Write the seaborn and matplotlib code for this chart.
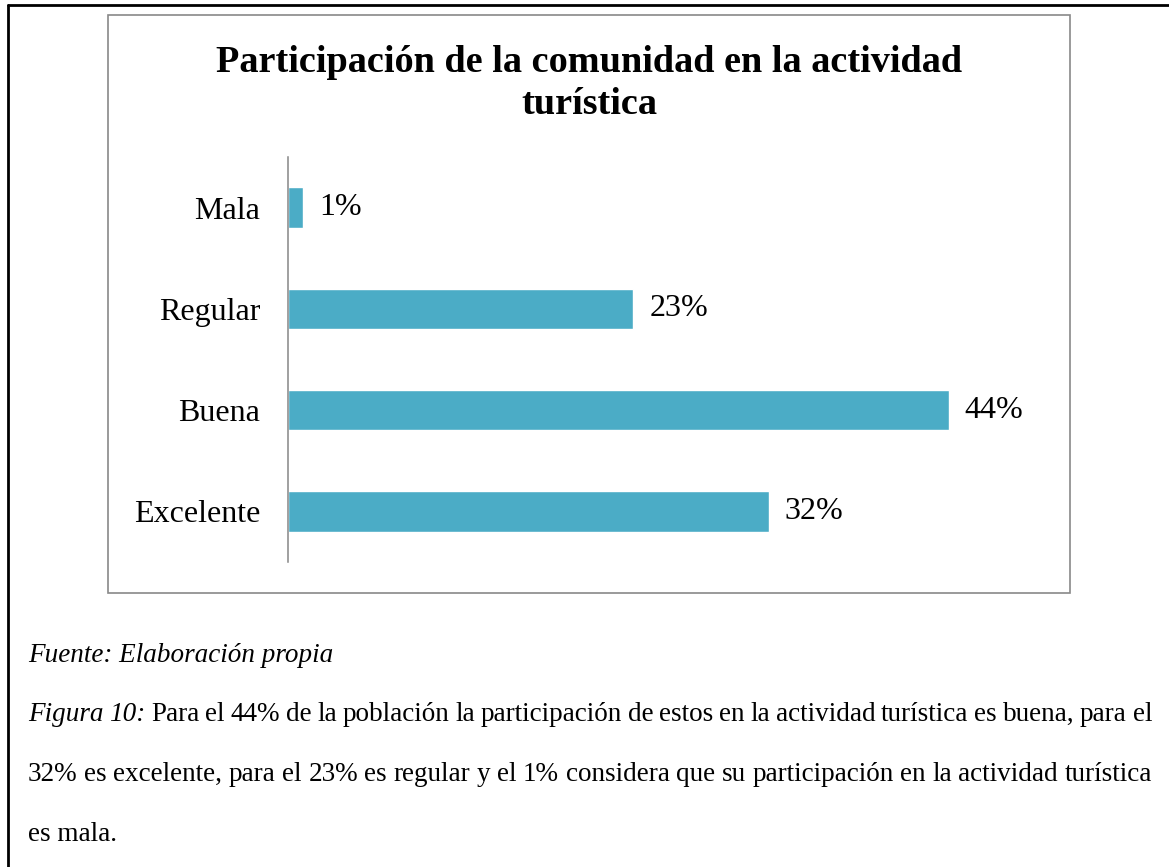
import matplotlib
matplotlib.use("Agg")
import pandas as pd
import matplotlib.pyplot as plt
import seaborn as sns
from matplotlib.patches import Rectangle
from matplotlib.lines import Line2D

# data
categorias = ["Mala", "Regular", "Buena", "Excelente"]
porcentajes = [1, 23, 44, 32]
etiquetas = ["1%", "23%", "44%", "32%"]

titulo_l1 = "Participación de la comunidad en la actividad"
titulo_l2 = "turística"
fuente = "Fuente: Elaboración propia"
figura = "Figura 10:"
parrafo = [
    "Para el 44% de la población la participación de estos en la actividad turística es buena, para el",
    "32% es excelente, para el 23% es regular y el 1% considera que su participación en la actividad turística",
    "es mala.",
]

df = pd.DataFrame({"categoria": categorias, "porcentaje": porcentajes})

sns.set_style("white")
plt.rcParams["font.family"] = ["Liberation Serif", "DejaVu Serif"]
plt.rcParams["text.color"] = "black"
plt.rcParams["ytick.color"] = "black"
plt.rcParams["axes.labelcolor"] = "black"

W, H = 1169, 867
fig = plt.figure(figsize=(W / 100, H / 100), dpi=100)

# bar chart
ax = fig.add_axes([288 / W, 1 - 562 / H, 751 / W, 405 / H])
sns.barplot(data=df, x="porcentaje", y="categoria", order=categorias,
            color="#4BACC6", saturation=1, width=0.4, errorbar=None, ax=ax)
ax.bar_label(ax.containers[0], labels=etiquetas, padding=11.5, fontsize=23, color="black")
ax.set_xlim(0, 50)
ax.set_xticks([])
ax.set_xlabel("")
ax.set_ylabel("")
ax.tick_params(axis="y", length=0, pad=20, labelsize=23, labelcolor="black")
sns.despine(ax=ax, top=True, right=True, bottom=True, left=False)
ax.spines["left"].set_color("#868686")
ax.spines["left"].set_linewidth(1.1)

# chart frame
fig.add_artist(Rectangle((108 / W, 1 - 593 / H), 962 / W, 578 / H, transform=fig.transFigure,
                         fill=False, edgecolor="#898989", lw=1.2))
# page frame (left and top)
fig.add_artist(Line2D([8 / W, 8 / W], [0, 1 - 5 / H], color="black", lw=2))
fig.add_artist(Line2D([8 / W, 1], [1 - 5 / H, 1 - 5 / H], color="black", lw=2))

# title
fig.text(589 / W, 1 - 72 / H, titulo_l1, ha="center", va="baseline", fontsize=27.5, fontweight="bold")
fig.text(589 / W, 1 - 114 / H, titulo_l2, ha="center", va="baseline", fontsize=27.5, fontweight="bold")

# caption
FS = 19.5
renderer = fig.canvas.get_renderer()


def linea(y, palabras, x0=28, x1=1152):
    # justified line: words spread out to fill x0..x1
    arts = [fig.text(x0 / W, 1 - y / H, p, fontsize=FS, style=s, va="baseline", ha="left")
            for p, s in palabras]
    anchos = [t.get_window_extent(renderer).width for t in arts]
    hueco = (x1 - x0 - sum(anchos)) / (len(arts) - 1)
    x = x0
    for t, a in zip(arts, anchos):
        t.set_x(x / W)
        x += a + hueco


fig.text(28 / W, 1 - 662 / H, fuente, fontsize=FS, style="italic", va="baseline")
linea(721, [(w, "italic") for w in figura.split()] + [(w, "normal") for w in parrafo[0].split()])
linea(781, [(w, "normal") for w in parrafo[1].split()])
fig.text(28 / W, 1 - 841 / H, parrafo[2], fontsize=FS, va="baseline")

fig.savefig("out.png", dpi=100)
